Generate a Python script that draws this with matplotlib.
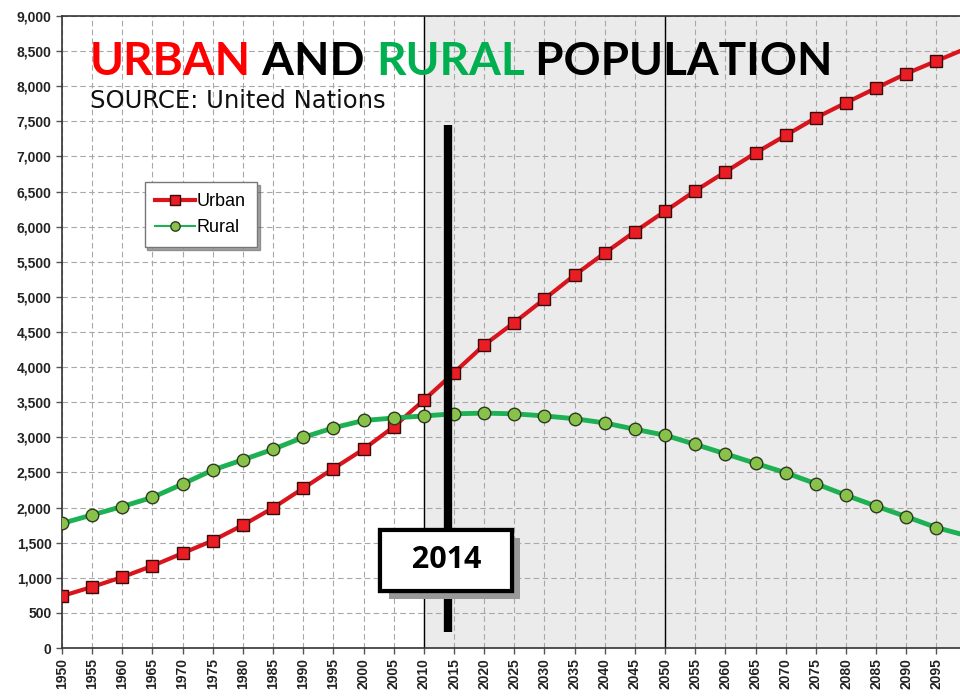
import numpy as np
import matplotlib
matplotlib.use("Agg")
import matplotlib.pyplot as plt
from matplotlib import patheffects

years = list(range(1950, 2101, 5))
urban = [740, 870, 1010, 1170, 1350, 1530, 1750, 1995, 2275, 2555, 2830, 3150,
         3530, 3920, 4315, 4635, 4970, 5310, 5625, 5930, 6220, 6510, 6780, 7050,
         7300, 7550, 7765, 7975, 8180, 8360, 8540]
rural = [1775, 1895, 2015, 2145, 2335, 2535, 2680, 2830, 3000, 3135, 3240, 3275,
         3305, 3335, 3345, 3335, 3305, 3265, 3205, 3115, 3030, 2900, 2765, 2630,
         2495, 2340, 2175, 2020, 1870, 1715, 1600]
y_ticks = list(range(0, 9001, 500))
highlight_year = 2014
highlight_span = (230, 7450)
shade_start = 2010
period_line = 2050

fig = plt.figure(figsize=(9.6, 7.0), dpi=100)
ax = fig.add_axes([62 / 960, 52 / 700, 898 / 960, 632 / 700])

ax.set_xlim(1950, 2098.9)
ax.set_ylim(0, 9000)

# shaded projection period
ax.axvspan(shade_start, 2098.9, color="#ebebeb", zorder=0)
ax.axvline(shade_start, color="black", lw=1, zorder=1)
ax.axvline(period_line, color="black", lw=1, zorder=1)

ax.grid(True, color="#a8a8a8", ls=(0, (5, 3)), lw=0.8, zorder=1)
ax.set_axisbelow(True)

ax.plot(years, urban, color="#d9141c", lw=3, marker="s", ms=9,
        mfc="#ea1c24", mec="#3a0a0a", mew=1, label="Urban", zorder=3)
ax.plot(years, rural, color="#1db154", lw=3.5, marker="o", ms=9,
        mfc="#88c24a", mec="#2e3a20", mew=1, label="Rural", zorder=3)

ax.set_xticks(years[:-1])
ax.set_xticklabels([str(y) for y in years[:-1]], rotation=90,
                   fontsize=10, fontweight="bold", family="Liberation Sans",
                   color="#222222")
ax.set_yticks(y_ticks)
ax.set_yticklabels([f"{v:,}" for v in y_ticks], fontsize=10,
                   fontweight="bold", family="Liberation Sans", color="#222222")
ax.tick_params(axis="both", length=4, width=1, color="#555555")

for side in ["left", "bottom", "top"]:
    ax.spines[side].set_color("#333333")
    ax.spines[side].set_linewidth(1.2)
ax.spines["right"].set_visible(False)

leg = ax.legend(loc="upper left", bbox_to_anchor=(0.092, 0.737),
                prop={"family": "Liberation Sans", "size": 13},
                fancybox=False, shadow=True, framealpha=1, edgecolor="#777777",
                handlelength=2.2, handletextpad=0.1, borderpad=0.6,
                labelspacing=0.5, markerscale=0.75, borderaxespad=0)
leg.get_frame().set_linewidth(1)
leg.get_lines()[1].set_linewidth(1.5)

# 2014 marker line with label box
ax.plot([highlight_year, highlight_year], highlight_span, color="black", lw=6,
        solid_capstyle="butt", zorder=4)
label = ax.text(highlight_year - 0.3, 1250, "  2014  ", ha="center",
                va="center", fontsize=22, fontweight="bold", family="Open Sans",
                color="black",
                bbox=dict(boxstyle="square,pad=0.5", fc="white", ec="black",
                          lw=3),
                zorder=6)
label.get_bbox_patch().set_path_effects([
    patheffects.withSimplePatchShadow(offset=(6, -6), shadow_rgbFace="#999999",
                                      alpha=1),
    patheffects.Normal()])

# title in coloured pieces
title_kw = dict(fontsize=33, family="Lato", fontweight="bold")
t = fig.text(90 / 960, 1 - 75 / 700, "URBAN", color="#ff0000", **title_kw)
t = ax.annotate(" AND ", xycoords=t, xy=(1, 0), va="bottom", color="black",
                **title_kw)
t = ax.annotate("RURAL", xycoords=t, xy=(1, 0), va="bottom", color="#00b050",
                **title_kw)
t = ax.annotate(" POPULATION", xycoords=t, xy=(1, 0), va="bottom",
                color="black", **title_kw)
fig.text(90 / 960, 1 - 108 / 700, "SOURCE: United Nations", fontsize=17.5,
         family="DejaVu Sans", color="#111111")

fig.savefig("out.png", dpi=100)
